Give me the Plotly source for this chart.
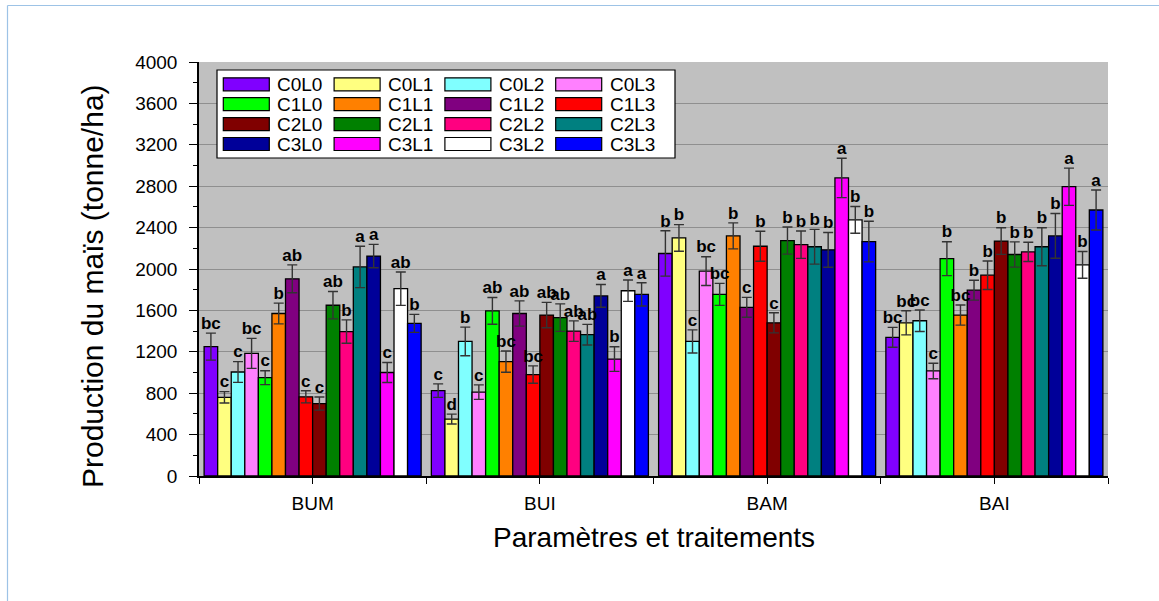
import plotly.graph_objects as go

# ---------------- data ----------------
groups = ["BUM", "BUI", "BAM", "BAI"]
treatments = ["C0L0", "C0L1", "C0L2", "C0L3",
              "C1L0", "C1L1", "C1L2", "C1L3",
              "C2L0", "C2L1", "C2L2", "C2L3",
              "C3L0", "C3L1", "C3L2", "C3L3"]
colors = ["#8000ff", "#ffff80", "#80ffff", "#ff80ff",
          "#00ff00", "#ff8000", "#800080", "#ff0000",
          "#800000", "#008000", "#ff0080", "#008080",
          "#000099", "#ff00ff", "#ffffff", "#0000ff"]

bum_values = [1250, 760, 1005, 1185, 950, 1570, 1905, 765, 700, 1650, 1395, 2020, 2125, 1000, 1810, 1475]
bum_errors = [130, 55, 100, 145, 67, 100, 135, 58, 64, 132, 113, 200, 113, 97, 161, 87]
bum_letters = ["bc", "c", "c", "bc", "c", "b", "ab", "c", "c", "ab", "b", "a", "a", "c", "ab", "b"]

bui_values = [825, 550, 1300, 810, 1595, 1105, 1570, 980, 1555, 1530, 1400, 1365, 1740, 1130, 1790, 1755]
bui_errors = [65, 48, 138, 70, 129, 103, 122, 84, 123, 133, 99, 100, 110, 119, 103, 112]
bui_letters = ["c", "d", "b", "c", "ab", "bc", "ab", "bc", "ab", "ab", "ab", "ab", "a", "b", "a", "a"]

bam_values = [2150, 2300, 1300, 1980, 1755, 2320, 1630, 2220, 1480, 2275, 2235, 2215, 2185, 2880, 2475, 2265]
bam_errors = [219, 129, 112, 139, 106, 126, 96, 145, 97, 131, 132, 168, 168, 190, 129, 196]
bam_letters = ["b", "b", "c", "bc", "bc", "b", "c", "b", "c", "b", "b", "b", "b", "a", "b", "b"]

bai_values = [1340, 1480, 1500, 1015, 2100, 1555, 1795, 1940, 2270, 2140, 2165, 2215, 2320, 2795, 2040, 2570]
bai_errors = [96, 116, 104, 75, 164, 97, 96, 138, 129, 122, 93, 184, 216, 180, 129, 193]
bai_letters = ["bc", "bc", "bc", "c", "b", "bc", "b", "b", "b", "b", "b", "b", "b", "a", "b", "a"]

y_ticks = [0, 400, 800, 1200, 1600, 2000, 2400, 2800, 3200, 3600, 4000]

values_by_group = [bum_values, bui_values, bam_values, bai_values]
errors_by_group = [bum_errors, bui_errors, bam_errors, bai_errors]
letters_by_group = [bum_letters, bui_letters, bam_letters, bai_letters]

# ---------------- layout geometry ----------------
W, H = 1159, 601
L, R, T, B = 199, 1108, 62, 476
FONT = "Arial, Liberation Sans, sans-serif"


def px_x(x):
    return (x - L) / (R - L)


def px_y(y):
    return (B - y) / (B - T)


x_pos = list(range(len(groups)))
fig = go.Figure()

for i, name in enumerate(treatments):
    vals = [g[i] for g in values_by_group]
    errs = [g[i] for g in errors_by_group]
    lets = [g[i] for g in letters_by_group]
    fig.add_trace(go.Bar(
        x=x_pos, y=vals, name=name, offsetgroup=name,
        marker=dict(color=colors[i], line=dict(color="black", width=1.3)),
        error_y=dict(type="data", array=errs, visible=True,
                     color="#333333", thickness=1.4, width=5),
        showlegend=False,
    ))
    fig.add_trace(go.Scatter(
        x=x_pos, y=[v + e for v, e in zip(vals, errs)],
        mode="text", text=lets, textposition="top center",
        textfont=dict(family=FONT, size=17, color="black", weight="bold"),
        offsetgroup=name, showlegend=False, hoverinfo="skip",
    ))

shapes = []
annotations = []

# custom legend
shapes.append(dict(type="rect", xref="paper", yref="paper",
                   x0=px_x(217), x1=px_x(675), y0=px_y(158), y1=px_y(70),
                   fillcolor="white", line=dict(color="black", width=1.2), layer="above"))
for i, name in enumerate(treatments):
    r, c = divmod(i, 4)
    sx = 223.3 + 110.8 * c
    sy = 84.3 + 19.9 * r
    shapes.append(dict(type="rect", xref="paper", yref="paper",
                       x0=px_x(sx), x1=px_x(sx + 46),
                       y0=px_y(sy + 6.5), y1=px_y(sy - 6.5),
                       fillcolor=colors[i], line=dict(color="black", width=1.2),
                       layer="above"))
    annotations.append(dict(xref="paper", yref="paper", x=px_x(sx + 52), y=px_y(sy + 0.5),
                            xanchor="left", yanchor="middle", text=name, showarrow=False,
                            font=dict(family=FONT, size=19, color="black")))

# page frame (light blue top/left)
shapes.append(dict(type="line", xref="paper", yref="paper",
                   x0=px_x(7.5), x1=px_x(1160), y0=px_y(5.5), y1=px_y(5.5),
                   line=dict(color="#9dc3e6", width=1.2)))
shapes.append(dict(type="line", xref="paper", yref="paper",
                   x0=px_x(7.5), x1=px_x(7.5), y0=px_y(5.5), y1=px_y(602),
                   line=dict(color="#9dc3e6", width=1.2)))

# titles
annotations.append(dict(xref="paper", yref="paper", x=px_x(92), y=px_y(286),
                        xanchor="center", yanchor="middle", textangle=-90,
                        text="Production du maïs (tonne/ha)", showarrow=False,
                        font=dict(family=FONT, size=30, color="black")))
annotations.append(dict(xref="paper", yref="paper", x=px_x(654), y=px_y(537),
                        xanchor="center", yanchor="middle",
                        text="Paramètres et traitements", showarrow=False,
                        font=dict(family=FONT, size=28, color="black")))

fig.update_layout(
    width=W, height=H,
    margin=dict(l=L, r=W - R, t=T, b=H - B, autoexpand=False),
    paper_bgcolor="white", plot_bgcolor="#c0c0c0",
    barmode="group", bargap=0.045, bargroupgap=0,
    scattermode="group", scattergap=0.045,
    shapes=shapes, annotations=annotations,
    font=dict(family=FONT, color="black"),
    showlegend=False,
)
fig.update_xaxes(
    range=[-0.5, 3.5], tickmode="array", tickvals=x_pos, ticktext=groups,
    ticks="outside", ticklen=6, tickwidth=1.3, tickcolor="black",
    minor=dict(tickmode="linear", tick0=-0.5, dtick=1, ticks="outside",
               ticklen=6, tickwidth=1.3, tickcolor="black"),
    showline=True, linecolor="black", linewidth=1.5, showgrid=False, zeroline=False,
    tickfont=dict(family=FONT, size=19, color="black"),
    ticklabelstandoff=3,
)
fig.update_yaxes(
    range=[0, 4000], tickmode="array", tickvals=y_ticks,
    ticks="outside", ticklen=8, tickwidth=1.3, tickcolor="black",
    minor=dict(tickmode="linear", tick0=0, dtick=200, ticks="outside",
               ticklen=4, tickwidth=1.2, tickcolor="black", showgrid=False),
    showline=True, linecolor="black", linewidth=1.5,
    showgrid=True, gridcolor="#8f8f8f", gridwidth=1, zeroline=False,
    tickfont=dict(family=FONT, size=19, color="black"),
    ticklabelstandoff=8,
)

fig.write_html("out.html", config={"displayModeBar": False},
               post_script="document.body.style.margin='0';document.body.style.overflow='hidden';")
